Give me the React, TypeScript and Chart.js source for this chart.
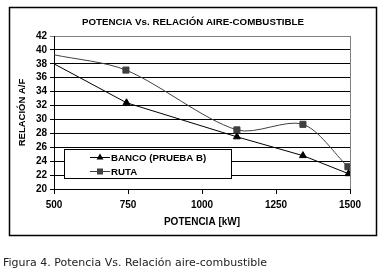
import React, { useEffect, useRef } from "react";
import { Chart, registerables } from "chart.js";
Chart.register(...registerables);

const titleText = "POTENCIA Vs. RELACIÓN AIRE-COMBUSTIBLE";
const xTitle = "POTENCIA [kW]";
const yTitle = "RELACIÓN A/F";
const caption = "Figura 4. Potencia Vs. Relación aire-combustible";
const seriesNames = ["BANCO (PRUEBA B)", "RUTA"];
const bancoX = [500, 745, 1118, 1341, 1495];
const bancoY = [38.0, 32.4, 27.5, 24.8, 22.2];
const rutaX = [500, 743, 1118, 1341, 1493];
const rutaY = [39.3, 37.1, 28.5, 29.3, 23.2];
const xTickValues = [500, 750, 1000, 1250, 1500];
const yTickValues = [20, 22, 24, 26, 28, 30, 32, 34, 36, 38, 40, 42];
const yMin = 20;
const yMax = 42;

const FONT = "'Liberation Sans', Arial, sans-serif";

function drawTriangle(ctx: CanvasRenderingContext2D, x: number, y: number, r: number) {
  ctx.beginPath();
  ctx.moveTo(x, y - r);
  ctx.lineTo(x + r * 0.866, y + r * 0.5);
  ctx.lineTo(x - r * 0.866, y + r * 0.5);
  ctx.closePath();
  ctx.fill();
}

const framePlugin = {
  id: "frame",
  afterDraw(chart: any) {
    const ctx = chart.ctx as CanvasRenderingContext2D;
    const a = chart.chartArea;
    ctx.save();
    // right border of plot area
    ctx.strokeStyle = "#808080";
    ctx.lineWidth = 1;
    ctx.beginPath();
    ctx.moveTo(Math.round(a.right) + 0.5, a.top);
    ctx.lineTo(Math.round(a.right) + 0.5, a.bottom);
    ctx.stroke();
    // outer frame
    ctx.strokeStyle = "#000";
    ctx.lineWidth = 1.5;
    ctx.strokeRect(9.5, 7.5, 367, 228);
    // title
    ctx.fillStyle = "#000";
    ctx.font = `bold 9.75px ${FONT}`;
    ctx.textAlign = "center";
    ctx.textBaseline = "middle";
    ctx.fillText(titleText, 193, 22);
    // legend
    const lx = 64, ly = 149, lw = 167, lh = 29;
    ctx.fillStyle = "#fff";
    ctx.fillRect(lx, ly, lw, lh);
    ctx.strokeStyle = "#000";
    ctx.lineWidth = 1;
    ctx.strokeRect(lx + 0.5, ly + 0.5, lw, lh);
    const rows = [157, 171];
    const colors = ["#000", "#404040"];
    rows.forEach((ry, i) => {
      ctx.strokeStyle = colors[i];
      ctx.lineWidth = 1;
      ctx.beginPath();
      ctx.moveTo(90, ry + 0.5);
      ctx.lineTo(110, ry + 0.5);
      ctx.stroke();
      ctx.fillStyle = colors[i];
      if (i === 0) drawTriangle(ctx, 100, ry + 0.5, 4);
      else ctx.fillRect(97, ry - 2.5, 6, 6);
      ctx.fillStyle = "#000";
      ctx.font = `bold 9.7px ${FONT}`;
      ctx.textAlign = "left";
      ctx.textBaseline = "middle";
      ctx.fillText(seriesNames[i], 111, ry + 1);
    });
    ctx.restore();
  },
};

export default function App() {
  const ref = useRef<HTMLCanvasElement>(null);
  useEffect(() => {
    if (!ref.current) return;
    const chart = new Chart(ref.current, {
      type: "line",
      data: {
        datasets: [
          {
            label: seriesNames[0],
            data: bancoX.map((x, i) => ({ x, y: bancoY[i] })),
            borderColor: "#000",
            backgroundColor: "#000",
            borderWidth: 1,
            pointStyle: "triangle",
            pointRadius: bancoX.map((_, i) => (i === 0 ? 0 : 4)),
            tension: 0,
          },
          {
            label: seriesNames[1],
            data: rutaX.map((x, i) => ({ x, y: rutaY[i] })),
            borderColor: "#404040",
            backgroundColor: "#404040",
            borderWidth: 1,
            pointStyle: "rect",
            pointRadius: rutaX.map((_, i) => (i === 0 ? 0 : 4.3)),
            tension: 0.3,
          },
        ],
      },
      options: {
        animation: false,
        responsive: false,
        events: [],
        layout: { padding: { left: 0, right: 33, top: 36, bottom: 34 } },
        plugins: { legend: { display: false }, tooltip: { enabled: false }, title: { display: false } },
        scales: {
          x: {
            type: "linear",
            min: 500,
            max: 1500,
            afterBuildTicks: (s: any) => {
              s.ticks = xTickValues.map((v) => ({ value: v }));
            },
            afterFit: (s: any) => {
              s.height = 47;
            },
            grid: { drawOnChartArea: false, drawTicks: true, tickLength: 5, color: "#000" },
            border: { display: true, color: "#000", width: 1 },
            ticks: {
              color: "#000",
              font: { family: FONT, size: 10, weight: "bold" },
              padding: 5,
              maxRotation: 0,
              autoSkip: false,
              callback: (v: any) => String(v),
            },
            title: {
              display: true,
              text: xTitle,
              color: "#000",
              font: { family: FONT, size: 10, weight: "bold" },
              padding: { top: 0, bottom: 8 },
            },
          },
          y: {
            type: "linear",
            min: yMin,
            max: yMax,
            afterBuildTicks: (s: any) => {
              s.ticks = yTickValues.map((v) => ({ value: v }));
            },
            afterFit: (s: any) => {
              s.width = 54;
            },
            grid: {
              color: (c: any) => (c.tick && c.tick.value === yMax ? "#808080" : "#000"),
              drawTicks: true,
              tickLength: 4,
            },
            border: { display: true, color: "#000", width: 1 },
            ticks: {
              color: "#000",
              font: { family: FONT, size: 10, weight: "bold" },
              padding: 3,
              autoSkip: false,
              callback: (v: any) => String(v),
            },
            title: {
              display: true,
              text: yTitle,
              color: "#000",
              font: { family: FONT, size: 9.5, weight: "bold" },
              padding: { top: 17, bottom: 0 },
            },
          },
        },
      },
      plugins: [framePlugin],
    } as any);
    return () => chart.destroy();
  }, []);
  return (
    <div style={{ position: "absolute", left: 0, top: 0, width: 383, height: 270, background: "#fff" }}>
      <canvas ref={ref} width={383} height={270} style={{ display: "block", width: 383, height: 270 }} />
      <div
        style={{
          position: "absolute",
          left: 3,
          top: 256,
          fontFamily: "'DejaVu Sans', Verdana, sans-serif",
          fontSize: 11,
          color: "#222",
          whiteSpace: "nowrap",
          lineHeight: "14px",
        }}
      >
        {caption}
      </div>
    </div>
  );
}
